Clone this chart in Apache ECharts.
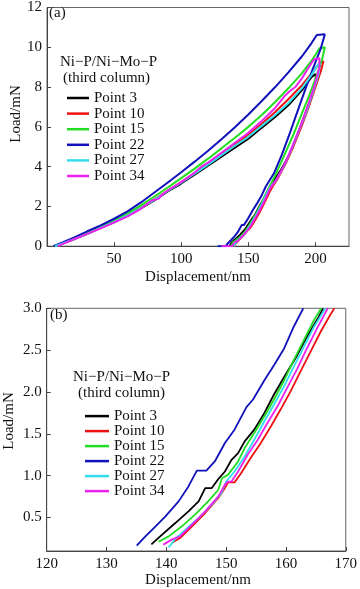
<!DOCTYPE html>
<html>
<head>
<meta charset="utf-8">
<script src="https://cdn.jsdelivr.net/npm/echarts@6/dist/echarts.min.js"></script>
<style>html,body{margin:0;padding:0;background:#fff;}#c{width:360px;height:589px;}</style>
</head>
<body>
<div id="c"></div>
<script>
// ---------- Data ----------
const seriesNames = ['Point 3', 'Point 10', 'Point 15', 'Point 22', 'Point 27', 'Point 34'];
const legendTitle = ['Ni\u2212P/Ni\u2212Mo\u2212P', '(third column)'];

// Panel (a): full load–unload curves [displacement nm, load mN]
const p3Load = [[5,0],[12,0.15],[20,0.35],[30,0.62],[40,0.92],[50,1.2],[60,1.52],[70,1.9],[80,2.3],[90,2.75],[100,3.15],[110,3.6],[120,4.05],[130,4.5],[140,4.95],[150,5.4],[160,5.95],[170,6.5],[180,7.1],[190,7.85],[197,8.5],[200,8.65]];
const p3Unload = [[200,8.65],[200.5,8.3],[197,7.5],[192,6.6],[186.5,5.6],[180.5,4.6],[174,3.8],[168,3.2],[166,3.0],[163.5,2.66],[161.9,2.44],[158,1.97],[154.7,1.55],[153.1,1.41],[150.9,1.19],[148.7,0.96],[147.6,0.85],[146.5,0.85],[145.4,0.69],[143.7,0.57],[141.5,0.43],[139.3,0.3],[137.5,0.18],[136,0]];

const p10Load = [[5,0],[12,0.15],[20,0.36],[30,0.63],[40,0.93],[50,1.22],[60,1.55],[70,1.93],[80,2.35],[90,2.8],[100,3.22],[110,3.68],[120,4.15],[130,4.6],[140,5.1],[150,5.6],[160,6.15],[170,6.75],[180,7.4],[190,8.1],[198,8.75],[203,9.2],[206,9.3]];
const p10Unload = [[206,9.3],[204,8.8],[199.5,7.9],[194.5,6.9],[189.5,6.0],[183.5,5.0],[177.5,4.1],[171.5,3.35],[168.1,3.0],[165.8,2.72],[162.4,2.24],[159.1,1.79],[155.8,1.39],[152.5,1.03],[151.4,0.92],[150.3,0.92],[148.7,0.73],[146.5,0.55],[144.3,0.4],[142.3,0.26],[140.9,0.2],[139,0]];

const p15Load = [[5,0],[12,0.17],[20,0.4],[30,0.7],[40,1.0],[50,1.3],[60,1.65],[70,2.05],[80,2.5],[90,2.95],[100,3.42],[110,3.9],[120,4.4],[130,4.92],[140,5.45],[150,6.0],[160,6.6],[170,7.25],[180,7.95],[190,8.7],[198,9.4],[203,9.95],[207,10.0]];
const p15Unload = [[207,10.0],[205,9.4],[201,8.6],[195.5,7.6],[189.5,6.6],[183.5,5.6],[177,4.6],[171,3.7],[165.9,3.0],[163,2.62],[159.7,2.14],[156.4,1.71],[153.1,1.33],[150.3,1.01],[149.3,0.97],[147,0.69],[144.8,0.53],[142.6,0.4],[140.4,0.28],[138.7,0.21],[137,0]];

const p22Load = [[5,0],[12,0.2],[20,0.43],[30,0.75],[40,1.05],[50,1.38],[60,1.75],[70,2.2],[80,2.7],[90,3.2],[100,3.72],[110,4.25],[120,4.8],[130,5.38],[140,5.98],[150,6.62],[160,7.3],[170,8.0],[180,8.75],[190,9.55],[197,10.2],[201,10.62],[207,10.65]];
const p22Unload = [[207,10.65],[204,9.95],[198,8.9],[192.5,7.9],[186.5,6.75],[181,5.7],[175,4.6],[169,3.65],[163,3.0],[159.7,2.52],[156.4,2.14],[153.4,1.82],[149.8,1.39],[146.7,1.06],[145.1,1.06],[142,0.69],[139.8,0.51],[137,0.3],[135,0.16],[133,0],[127,0]];

const p27Load = [[6,0],[12,0.15],[20,0.35],[30,0.62],[40,0.92],[50,1.22],[60,1.55],[70,1.92],[80,2.33],[90,2.78],[100,3.2],[110,3.65],[120,4.1],[130,4.58],[140,5.05],[150,5.5],[160,6.05],[170,6.6],[180,7.2],[190,7.95],[197,8.6],[201,9.05],[203,9.2]];
const p27Unload = [[203,9.2],[202.5,8.7],[198.5,7.8],[193.5,6.8],[188,5.85],[182,4.85],[176,3.95],[170.5,3.3],[166.6,3.0],[164.7,2.78],[161.3,2.3],[158,1.85],[154.7,1.43],[151.4,1.05],[150,0.93],[149.2,0.79],[147.6,0.65],[145.4,0.49],[143.2,0.36],[141.5,0.24],[140.4,0.14],[139,0]];

const p34Load = [[8,0],[14,0.18],[20,0.35],[30,0.62],[40,0.9],[50,1.2],[60,1.5],[70,1.88],[78,2.3],[83,2.38],[86,2.6],[90,2.8],[100,3.22],[110,3.7],[115,4.0],[120,4.2],[130,4.7],[140,5.2],[150,5.7],[160,6.3],[170,6.95],[177,7.55],[181,7.8],[185,8.0],[190,8.45],[195,9.0],[199,9.4],[203,9.45]];
const p34Unload = [[203,9.45],[203,9.0],[199,8.0],[194,7.0],[189,6.05],[183,5.05],[177,4.1],[171,3.35],[167,3.0],[165.2,2.76],[161.9,2.28],[158.6,1.83],[155.3,1.43],[152,1.05],[150.9,0.93],[150.3,0.93],[149.8,0.89],[148.7,0.75],[146.5,0.57],[144.3,0.42],[142.3,0.28],[140.9,0.24],[139.5,0.18],[138,0],[130,0]];

// Panel (b): zoom into the bottom of the unloading curves
const p3Zoom = [[137.5,0.18],[139.3,0.295],[141.5,0.434],[143.7,0.574],[145.4,0.693],[146.5,0.852],[147.6,0.852],[148.7,0.96],[149.8,1.05],[150.9,1.19],[152.0,1.27],[153.1,1.41],[154.7,1.55],[156.4,1.75],[158.0,1.97],[159.7,2.18],[161.9,2.44],[163.5,2.66],[165.5,2.9],[166.2,3.0]];
const p10Zoom = [[140.9,0.196],[142.3,0.255],[144.3,0.395],[146.5,0.554],[148.7,0.733],[149.8,0.852],[150.3,0.92],[151.4,0.92],[152.5,1.03],[154.1,1.21],[155.8,1.39],[157.5,1.59],[159.1,1.79],[160.8,2.01],[162.4,2.24],[164.1,2.48],[165.8,2.72],[167.4,2.92],[168.1,3.0]];
const p15Zoom = [[138.7,0.21],[140.4,0.275],[142.6,0.395],[144.8,0.534],[147.0,0.693],[148.7,0.832],[149.3,0.97],[150.3,1.01],[152.0,1.17],[153.1,1.33],[154.7,1.51],[156.4,1.71],[158.0,1.91],[159.7,2.14],[161.3,2.38],[163.0,2.62],[164.7,2.86],[165.9,3.0]];
const p22Zoom = [[135.05,0.164],[136.5,0.275],[138.2,0.395],[139.85,0.514],[142.05,0.693],[143.7,0.872],[145.1,1.06],[146.7,1.06],[148.1,1.17],[149.8,1.39],[151.4,1.55],[153.4,1.82],[154.5,1.91],[156.4,2.14],[158.0,2.32],[159.7,2.52],[161.3,2.78],[162.9,3.0]];
const p27Zoom = [[140.4,0.144],[141.5,0.243],[143.2,0.355],[145.4,0.494],[147.6,0.653],[149.2,0.792],[150.0,0.93],[151.4,1.05],[153.1,1.23],[154.7,1.43],[156.4,1.65],[158.0,1.85],[159.7,2.07],[161.3,2.3],[163.0,2.54],[164.7,2.78],[166.6,3.0]];
const p34Zoom = [[139.5,0.176],[140.9,0.236],[142.3,0.275],[144.3,0.415],[146.5,0.574],[148.7,0.753],[149.8,0.892],[150.3,0.93],[150.9,0.93],[152.0,1.05],[153.6,1.25],[155.3,1.43],[156.9,1.63],[158.6,1.83],[160.2,2.05],[161.9,2.28],[163.5,2.52],[165.2,2.76],[167.0,3.0]];

// Axis ticks
const xTicksA = [0, 50, 100, 150, 200];
const yTicksA = [0, 2, 4, 6, 8, 10, 12];
const xTicksB = [120, 130, 140, 150, 160, 170];
const yTicksB = [0.5, 1.0, 1.5, 2.0, 2.5, 3.0];

// ---------- Chart ----------
const colors = ['#000000', '#ee1111', '#22dd22', '#1111bb', '#33ddee', '#ee22ee'];
const FONT = 'Liberation Serif';
const curvesA = [p3Load.concat(p3Unload), p10Load.concat(p10Unload), p15Load.concat(p15Unload), p22Load.concat(p22Unload), p27Load.concat(p27Unload), p34Load.concat(p34Unload)];
const curvesB = [p3Zoom, p10Zoom, p15Zoom, p22Zoom, p27Zoom, p34Zoom];

const series = [];
seriesNames.forEach((n, i) => {
  series.push({ name: n, type: 'line', xAxisIndex: 0, yAxisIndex: 0, data: curvesA[i], showSymbol: false, symbol: 'none',
    lineStyle: { color: colors[i], width: 2 }, itemStyle: { color: colors[i] }, animation: false, silent: true });
});
seriesNames.forEach((n, i) => {
  series.push({ name: n, type: 'line', xAxisIndex: 1, yAxisIndex: 1, data: curvesB[i], showSymbol: false, symbol: 'none',
    lineStyle: { color: colors[i], width: 1.8 }, itemStyle: { color: colors[i] }, animation: false, silent: true });
});

const axisCommon = {
  axisLine: { show: true, lineStyle: { color: '#444', width: 1 } },
  axisTick: { show: true, inside: true, length: 4, lineStyle: { color: '#444' } },
  splitLine: { show: false },
  axisLabel: { fontFamily: FONT, fontSize: 15, color: '#111' }
};

const option = {
  backgroundColor: '#fff',
  animation: false,
  grid: [
    { left: 47, top: 4.9, width: 302, height: 241.3, show: true, borderColor: '#666', borderWidth: 1 },
    { left: 46.7, top: 308.3, width: 302.3, height: 242.7, show: true, borderColor: '#666', borderWidth: 1 }
  ],
  xAxis: [
    Object.assign({}, axisCommon, { gridIndex: 0, type: 'value', min: 0, max: 225, interval: 50,
      axisLabel: Object.assign({}, axisCommon.axisLabel, { margin: 5, customValues: xTicksA.slice(1) }),
      axisTick: Object.assign({}, axisCommon.axisTick, { customValues: xTicksA }) }),
    Object.assign({}, axisCommon, { gridIndex: 1, type: 'value', min: 120, max: 170, interval: 10,
      axisLabel: Object.assign({}, axisCommon.axisLabel, { margin: 6, customValues: xTicksB }),
      axisTick: Object.assign({}, axisCommon.axisTick, { customValues: xTicksB }) })
  ],
  yAxis: [
    Object.assign({}, axisCommon, { gridIndex: 0, type: 'value', min: 0, max: 12, interval: 2,
      axisLabel: Object.assign({}, axisCommon.axisLabel, { margin: 5, customValues: yTicksA }),
      axisTick: Object.assign({}, axisCommon.axisTick, { customValues: yTicksA }) }),
    Object.assign({}, axisCommon, { gridIndex: 1, type: 'value', min: 0.1, max: 3.0,
      axisLabel: Object.assign({}, axisCommon.axisLabel, { margin: 5, customValues: yTicksB, formatter: v => Number(v).toFixed(1) }),
      axisTick: Object.assign({}, axisCommon.axisTick, { customValues: yTicksB }) })
  ],
  legend: [
    { data: seriesNames, orient: 'vertical', left: 62, top: 85.2, itemGap: 0, itemWidth: 22, itemHeight: 2.5, icon: 'rect',
      selectedMode: false, textStyle: { fontFamily: FONT, fontSize: 15, lineHeight: 15.6, color: '#111' } },
    { data: seriesNames, orient: 'vertical', left: 80, top: 403.6, itemGap: 0, itemWidth: 24, itemHeight: 2.5, icon: 'rect',
      selectedMode: false, textStyle: { fontFamily: FONT, fontSize: 15, lineHeight: 14.8, color: '#111' } }
  ],
  graphic: [
    { type: 'text', left: 49, top: 6, style: { text: '(a)', fontFamily: FONT, fontSize: 15, fill: '#111' } },
    { type: 'text', left: 50, top: 308, style: { text: '(b)', fontFamily: FONT, fontSize: 15, fill: '#111' } },
    { type: 'text', x: 60, y: 62, style: { text: legendTitle[0], fontFamily: FONT, fontSize: 15, fill: '#111', verticalAlign: 'middle' } },
    { type: 'text', x: 63, y: 78, style: { text: legendTitle[1], fontFamily: FONT, fontSize: 15, fill: '#111', verticalAlign: 'middle' } },
    { type: 'text', x: 73, y: 377, style: { text: legendTitle[0], fontFamily: FONT, fontSize: 15, fill: '#111', verticalAlign: 'middle' } },
    { type: 'text', x: 78, y: 393, style: { text: legendTitle[1], fontFamily: FONT, fontSize: 15, fill: '#111', verticalAlign: 'middle' } },
    { type: 'text', x: 198, y: 277, style: { text: 'Displacement/nm', fontFamily: FONT, fontSize: 15, fill: '#111', align: 'center', verticalAlign: 'middle' } },
    { type: 'text', x: 198, y: 580, style: { text: 'Displacement/nm', fontFamily: FONT, fontSize: 15, fill: '#111', align: 'center', verticalAlign: 'middle' } },
    { type: 'text', x: 16, y: 114, rotation: Math.PI / 2, style: { text: 'Load/mN', fontFamily: FONT, fontSize: 15, fill: '#111', align: 'center', verticalAlign: 'middle' } },
    { type: 'text', x: 9, y: 421, rotation: Math.PI / 2, style: { text: 'Load/mN', fontFamily: FONT, fontSize: 15, fill: '#111', align: 'center', verticalAlign: 'middle' } }
  ],
  series: series
};

const chart = echarts.init(document.getElementById('c'), null, { renderer: 'canvas' });
chart.setOption(option);
</script>
</body>
</html>
